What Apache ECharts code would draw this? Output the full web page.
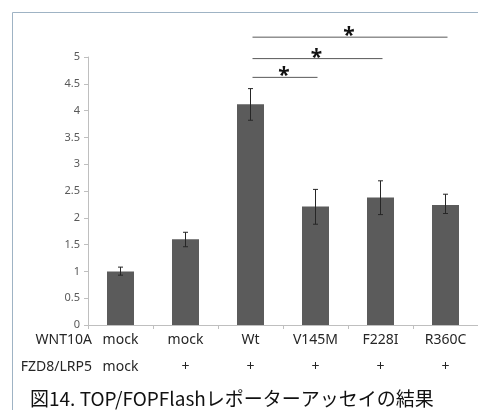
<!DOCTYPE html>
<html>
<head>
<meta charset="utf-8">
<script src="https://cdn.jsdelivr.net/npm/echarts@6/dist/echarts.min.js"></script>
<style>html,body{margin:0;padding:0;background:#fff;}#c{width:478px;height:410px;}</style>
</head>
<body>
<div id="c"></div>
<script>
var wnt10a = ['mock', 'mock', 'Wt', 'V145M', 'F228I', 'R360C'];
var fzd8 = ['mock', '+', '+', '+', '+', '+'];
var rowLabels = ['WNT10A', 'FZD8/LRP5'];
var values = [1.00, 1.60, 4.12, 2.21, 2.38, 2.24];
var errLow = [0.93, 1.46, 3.82, 1.88, 2.06, 2.08];
var errHigh = [1.08, 1.73, 4.41, 2.53, 2.69, 2.44];
var yTicks = [0, 0.5, 1, 1.5, 2, 2.5, 3, 3.5, 4, 4.5, 5];
// significance brackets: [from category, to category, height]
var sigFrom = [2, 2, 2];
var sigTo = [3, 4, 5];
var sigY = [4.62, 4.97, 5.37];
var sigMark = ['*', '*', '*'];
var caption = '図14. TOP/FOPFlashレポーターアッセイの結果';

var font = '"Noto Sans", "Noto Sans CJK JP", sans-serif';
var chart = echarts.init(document.getElementById('c'));

var errData = values.map(function (v, i) { return [i, errLow[i], errHigh[i]]; });
var sigData = sigFrom.map(function (f, i) { return [f, sigTo[i], sigY[i]]; });

chart.setOption({
  animation: false,
  backgroundColor: '#fff',
  grid: { left: 88, right: -7, top: 57, bottom: 85, containLabel: false },
  xAxis: {
    type: 'category',
    data: wnt10a,
    axisLine: { lineStyle: { color: '#bfbfbf', width: 1 } },
    axisTick: { show: true, length: 4, lineStyle: { color: '#bfbfbf' } },
    axisLabel: {
      margin: 2,
      interval: 0,
      formatter: function (v, i) { return '{a|' + wnt10a[i] + '}\n{b|' + fzd8[i] + '}'; },
      rich: {
        a: { fontSize: 14, fontFamily: font, color: '#262626', lineHeight: 27 },
        b: { fontSize: 14, fontFamily: font, color: '#262626', lineHeight: 27 }
      }
    }
  },
  yAxis: {
    type: 'value',
    min: yTicks[0],
    max: yTicks[yTicks.length - 1],
    interval: yTicks[1] - yTicks[0],
    splitLine: { show: false },
    axisLine: { show: true, lineStyle: { color: '#bfbfbf' } },
    axisTick: { show: true, length: 4, lineStyle: { color: '#bfbfbf' } },
    axisLabel: { fontSize: 11, fontFamily: font, color: '#595959', margin: 8 }
  },
  series: [
    {
      type: 'bar',
      data: values,
      barWidth: 27,
      itemStyle: { color: '#5b5b5b' }
    },
    {
      type: 'custom',
      data: errData,
      z: 5,
      clip: false,
      renderItem: function (params, api) {
        var x = api.value(0);
        var lo = api.coord([x, api.value(1)]);
        var hi = api.coord([x, api.value(2)]);
        var w = 2.5;
        var st = { stroke: '#262626', lineWidth: 1 };
        return {
          type: 'group',
          children: [
            { type: 'line', shape: { x1: lo[0], y1: lo[1], x2: hi[0], y2: hi[1] }, style: st },
            { type: 'line', shape: { x1: lo[0] - w, y1: lo[1], x2: lo[0] + w, y2: lo[1] }, style: st },
            { type: 'line', shape: { x1: hi[0] - w, y1: hi[1], x2: hi[0] + w, y2: hi[1] }, style: st }
          ]
        };
      }
    },
    {
      type: 'custom',
      data: sigData,
      z: 5,
      clip: false,
      renderItem: function (params, api) {
        var a = api.coord([api.value(0), api.value(2)]);
        var b = api.coord([api.value(1), api.value(2)]);
        var mark = sigMark[params.dataIndex];
        return {
          type: 'group',
          children: [
            { type: 'line', shape: { x1: a[0] + 2, y1: a[1], x2: b[0] + 2, y2: b[1] }, style: { stroke: '#595959', lineWidth: 1 } },
            { type: 'text', x: (a[0] + b[0]) / 2 + 1, y: a[1] - 1,
              style: { text: mark, fontSize: 21, fontWeight: 'bold', fontFamily: font, fill: '#111', textAlign: 'center', textVerticalAlign: 'middle' } }
          ]
        };
      }
    }
  ],
  graphic: [
    { type: 'rect', shape: { x: 12.5, y: 12.5, width: 475, height: 420 }, style: { fill: 'none', stroke: '#9fb3c4', lineWidth: 1 }, silent: true },
    { type: 'text', x: 92, y: 340, style: { text: rowLabels[0], fontSize: 14, fontFamily: font, fill: '#262626', textAlign: 'right', textVerticalAlign: 'middle' } },
    { type: 'text', x: 92, y: 367, style: { text: rowLabels[1], fontSize: 14, fontFamily: font, fill: '#262626', textAlign: 'right', textVerticalAlign: 'middle' } },
    { type: 'text', x: 30, y: 399, style: { text: caption, fontSize: 19, fontFamily: '"Noto Sans CJK JP", "Noto Sans", sans-serif', fill: '#111', textAlign: 'left', textVerticalAlign: 'middle' } }
  ]
});
</script>
</body>
</html>
